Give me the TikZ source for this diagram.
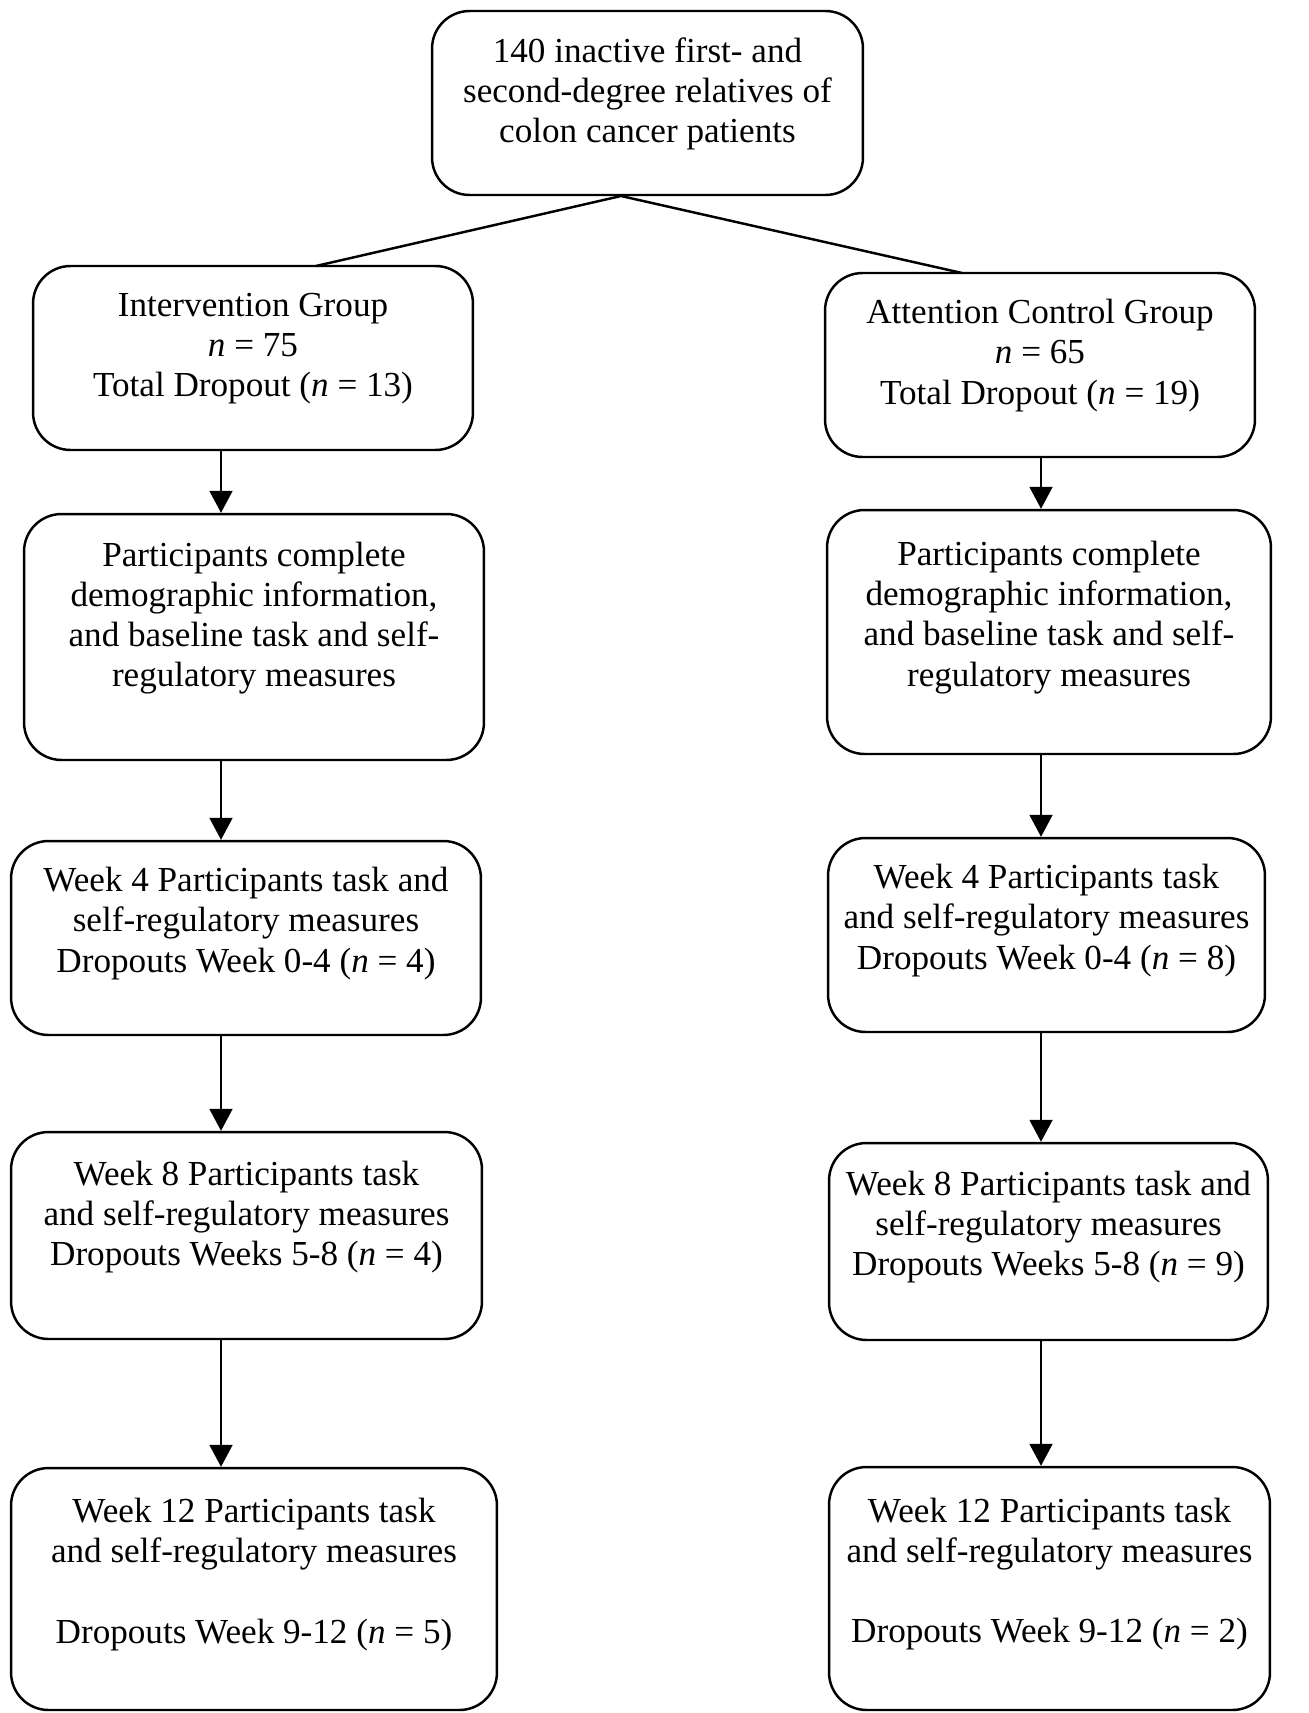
\documentclass[tikz,border=0pt]{standalone}
\usepackage{fontspec}
\setmainfont{Liberation Serif}
\usetikzlibrary{arrows.meta}

\begin{document}
\begin{tikzpicture}[x=0.02cm, y=-0.02cm,
    box/.style={draw, line width=1.4pt, rounded corners=0.75cm, inner sep=0pt, align=center,
      font=\fontsize{20pt}{22.8pt}\selectfont, text depth=0.73cm},
    arr/.style={line width=1.1pt, -{Triangle[length=0.44cm, width=0.46cm]}}]
    \useasboundingbox (0,0) rectangle (1308,1713);
    % Sample
    \node[box, minimum width=8.62cm, minimum height=3.68cm, text depth=0.53cm] (top) at (647.5,103)
      {140 inactive first- and\\second-degree relatives of\\colon cancer patients};
    % Intervention column
    \node[box, minimum width=8.8cm, minimum height=3.68cm, text depth=0.53cm] (ig) at (253,358)
      {Intervention Group\\\textit{n} = 75\\Total Dropout (\textit{n} = 13)};
    \node[box, minimum width=9.2cm, minimum height=4.92cm, text depth=0.9cm] (p1) at (254,637)
      {Participants complete\\demographic information,\\and baseline task and self-\\regulatory measures};
    \node[box, minimum width=9.4cm, minimum height=3.88cm] (w4) at (246,938)
      {Week 4 Participants task and\\self-regulatory measures\\Dropouts Week 0-4 (\textit{n} = 4)};
    \node[box, minimum width=9.42cm, minimum height=4.14cm, text depth=0.9cm] (w8) at (246.5,1235.5)
      {Week 8 Participants task\\and self-regulatory measures\\Dropouts Weeks 5-8 (\textit{n} = 4)};
    \node[box, minimum width=9.72cm, minimum height=4.84cm] (w12) at (254,1589)
      {Week 12 Participants task\\and self-regulatory measures\\[22.8pt]Dropouts Week 9-12 (\textit{n} = 5)};
    % Attention control column
    \node[box, minimum width=8.6cm, minimum height=3.68cm, text depth=0.53cm] (ac) at (1040,365)
      {Attention Control Group\\\textit{n} = 65\\Total Dropout (\textit{n} = 19)};
    \node[box, minimum width=8.88cm, minimum height=4.88cm] (p2) at (1049,632)
      {Participants complete\\demographic information,\\and baseline task and self-\\regulatory measures};
    \node[box, minimum width=8.74cm, minimum height=3.88cm] (w4r) at (1046.5,935)
      {Week 4 Participants task\\and self-regulatory measures\\Dropouts Week 0-4 (\textit{n} = 8)};
    \node[box, minimum width=8.78cm, minimum height=3.94cm] (w8r) at (1048.5,1241.5)
      {Week 8 Participants task and\\self-regulatory measures\\Dropouts Weeks 5-8 (\textit{n} = 9)};
    \node[box, minimum width=8.82cm, minimum height=4.86cm] (w12r) at (1049.5,1588.5)
      {Week 12 Participants task\\and self-regulatory measures\\[22.8pt]Dropouts Week 9-12 (\textit{n} = 2)};
    % Split into the two groups
    \coordinate (split) at (621,196);
    \coordinate (igtop) at (316,266);
    \coordinate (actop) at (962,273);
    \draw[line width=1.4pt] (igtop) -- (split) -- (actop);
    % Arrow columns
    \coordinate (lcol) at (221,0);
    \coordinate (rcol) at (1041,0);
    \foreach \a/\b in {ig/p1, p1/w4, w4/w8, w8/w12}
      \draw[arr] (\a.south -| lcol) -- (\b.north -| lcol);
    \foreach \a/\b in {ac/p2, p2/w4r, w4r/w8r, w8r/w12r}
      \draw[arr] (\a.south -| rcol) -- (\b.north -| rcol);
\end{tikzpicture}
\end{document}
